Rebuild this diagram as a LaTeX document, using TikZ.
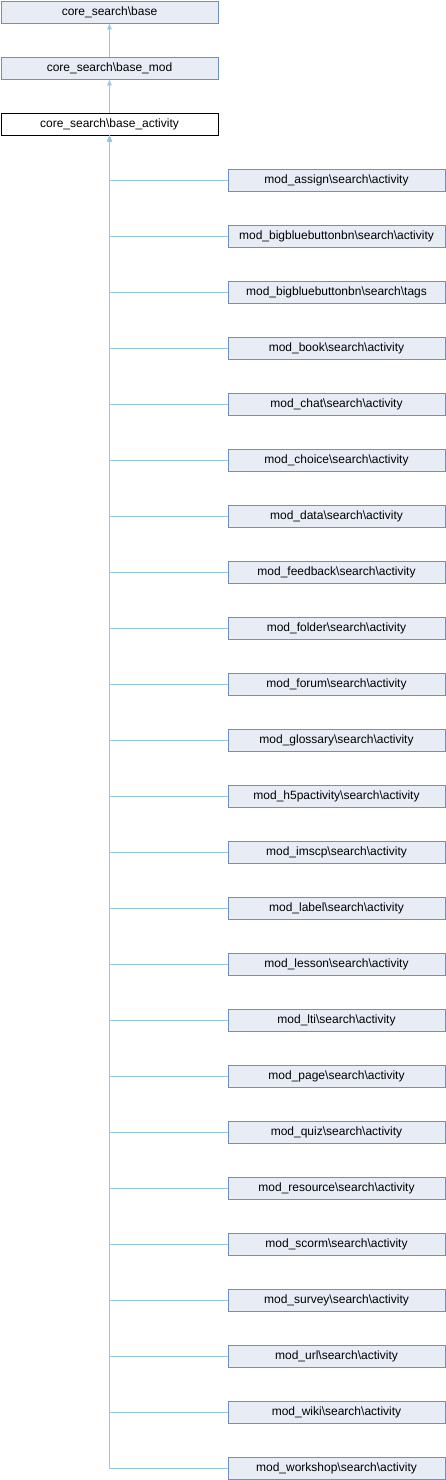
\documentclass[tikz,border=0pt]{standalone}
\usepackage{fontspec}
\setmainfont{Liberation Sans}
\usetikzlibrary{arrows.meta}
\definecolor{boxfill}{HTML}{E8ECF5}
\definecolor{boxdraw}{HTML}{6F8FC8}
\definecolor{edgecol}{HTML}{94C8EA}
\begin{document}
\begin{tikzpicture}[x=1pt,y=-1pt,
  cls/.style={draw=boxdraw,fill=boxfill,line width=0.8pt,minimum width=217pt,minimum height=22pt,inner sep=0pt,font=\fontsize{12}{14}\selectfont},
  cur/.style={cls,draw=black,fill=white},
  inh/.style={draw=edgecol,line width=0.8pt,-{Latex[length=6pt,width=5pt]}}]
\useasboundingbox (0,0) rectangle (446,1480);
\node[cls] (b0) at (109.5,12) {core\_search\textbackslash base};
\node[cls] (b1) at (109.5,68) {core\_search\textbackslash base\_mod};
\node[cur] (b2) at (109.5,124) {core\_search\textbackslash base\_activity};
\draw[inh] (b1) -- (b0);
\draw[inh] (b2) -- (b1);
\foreach \n [count=\i from 0] in {mod\_assign\textbackslash search\textbackslash activity,
 mod\_bigbluebuttonbn\textbackslash search\textbackslash activity,
 mod\_bigbluebuttonbn\textbackslash search\textbackslash tags,
 mod\_book\textbackslash search\textbackslash activity,
 mod\_chat\textbackslash search\textbackslash activity,
 mod\_choice\textbackslash search\textbackslash activity,
 mod\_data\textbackslash search\textbackslash activity,
 mod\_feedback\textbackslash search\textbackslash activity,
 mod\_folder\textbackslash search\textbackslash activity,
 mod\_forum\textbackslash search\textbackslash activity,
 mod\_glossary\textbackslash search\textbackslash activity,
 mod\_h5pactivity\textbackslash search\textbackslash activity,
 mod\_imscp\textbackslash search\textbackslash activity,
 mod\_label\textbackslash search\textbackslash activity,
 mod\_lesson\textbackslash search\textbackslash activity,
 mod\_lti\textbackslash search\textbackslash activity,
 mod\_page\textbackslash search\textbackslash activity,
 mod\_quiz\textbackslash search\textbackslash activity,
 mod\_resource\textbackslash search\textbackslash activity,
 mod\_scorm\textbackslash search\textbackslash activity,
 mod\_survey\textbackslash search\textbackslash activity,
 mod\_url\textbackslash search\textbackslash activity,
 mod\_wiki\textbackslash search\textbackslash activity,
 mod\_workshop\textbackslash search\textbackslash activity} {
  \node[cls] (c\i) at (336.5,180+56*\i) {\n};
  \draw[inh] (c\i.west) -| (b2.south);
}
\end{tikzpicture}
\end{document}
